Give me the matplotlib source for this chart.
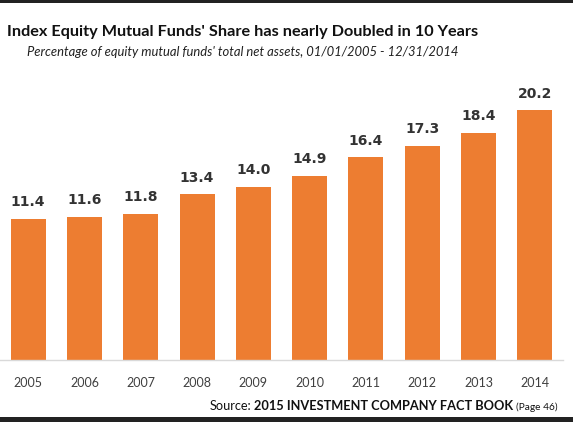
import matplotlib
matplotlib.use("Agg")
import matplotlib.pyplot as plt
from matplotlib.patches import Rectangle

years = ["2005", "2006", "2007", "2008", "2009", "2010", "2011", "2012", "2013", "2014"]
shares = [11.4, 11.6, 11.8, 13.4, 14.0, 14.9, 16.4, 17.3, 18.4, 20.2]

W, H = 573, 422
fig = plt.figure(figsize=(W / 100, H / 100), dpi=100)
fig.patch.set_facecolor("white")

ax = fig.add_axes([0 / W, (H - 360) / H, 563 / W, (360 - 88) / H])
x = list(range(len(years)))
bars = ax.bar(x, shares, width=0.62, color="#ED7D31")
ax.set_xlim(-0.5, len(years) - 0.5)
ax.set_ylim(0, 22)
for s in ["top", "right", "left"]:
    ax.spines[s].set_visible(False)
ax.spines["bottom"].set_color("#d9d9d9")
ax.spines["bottom"].set_linewidth(1)
ax.set_yticks([])
ax.set_xticks(x)
ax.set_xticklabels(years, fontfamily="Lato", fontsize=9, color="#404040")
ax.tick_params(axis="x", length=0, pad=12)

for xi, v in zip(x, shares):
    ax.annotate(f"{v:.1f}", (xi, v), xytext=(0, 7), textcoords="offset points",
                ha="center", va="bottom", fontsize=10, fontweight="bold",
                color="#333333", fontfamily="DejaVu Sans")

fig.canvas.draw()
r = fig.canvas.get_renderer()


def fit(t, target_px):
    w = t.get_window_extent(r).width
    t.set_fontsize(t.get_fontsize() * target_px / w)


title = fig.text(7 / W, 1 - 32 / H, "Index Equity Mutual Funds' Share has nearly Doubled in 10 Years",
                 fontfamily="Lato", fontweight="bold", fontsize=14, color="#111111",
                 ha="left", va="center")
fit(title, 473)
sub = fig.text(27 / W, 1 - 52 / H, "Percentage of equity mutual funds' total net assets, 01/01/2005 - 12/31/2014",
               fontfamily="Lato", fontstyle="italic", fontsize=10, color="#222222",
               ha="left", va="center")
fit(sub, 433)

# Source line built right-to-left
ypos = 1 - 410 / H
t3 = fig.text(558 / W, ypos, "(Page 46)", fontfamily="Lato", fontsize=7.3,
              color="#111111", ha="right", va="baseline")
bb = t3.get_window_extent(r)
t2 = fig.text((bb.x0 - 3) / W, ypos, "2015 INVESTMENT COMPANY FACT BOOK", fontfamily="Lato",
              fontweight="bold", fontsize=9.2, color="#111111", ha="right", va="baseline")
bb = t2.get_window_extent(r)
t1 = fig.text((bb.x0 - 3) / W, ypos, "Source:", fontfamily="Lato", fontsize=9.2,
              color="#111111", ha="right", va="baseline")

fig.patches.append(Rectangle((0, 1 - 3 / H), 1, 3 / H, transform=fig.transFigure,
                             facecolor="#222222", edgecolor="none"))
fig.patches.append(Rectangle((0, 0), 1, 5 / H, transform=fig.transFigure,
                             facecolor="#222222", edgecolor="none"))

fig.savefig("out.png", dpi=100)
